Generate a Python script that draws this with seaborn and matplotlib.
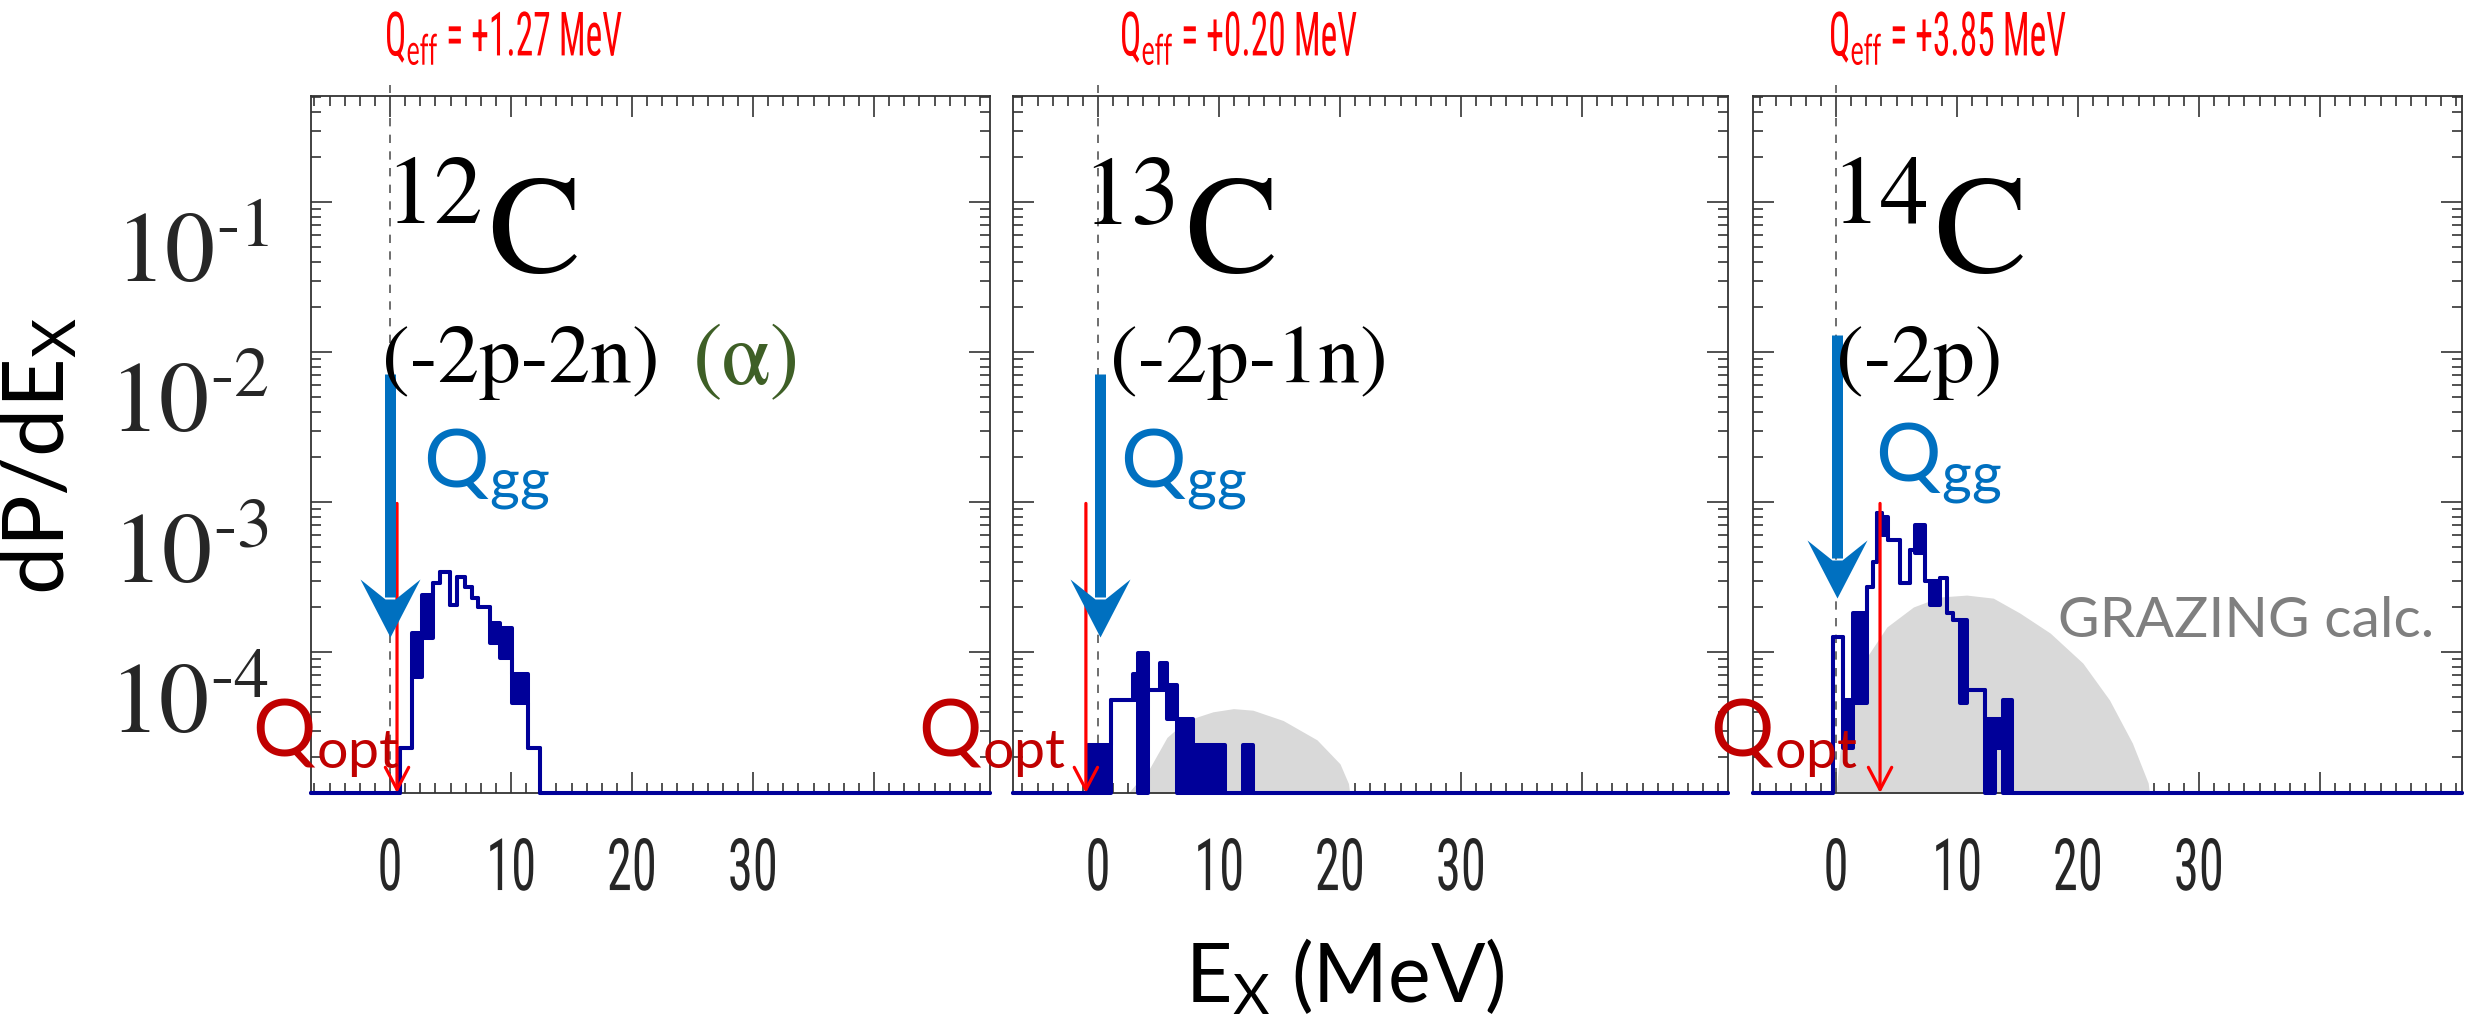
import numpy as np
import pandas as pd
import matplotlib
matplotlib.use("Agg")
import matplotlib.pyplot as plt
import seaborn as sns
from matplotlib import font_manager as fm
from matplotlib.path import Path
from matplotlib.patheffects import AbstractPathEffect
import matplotlib.transforms as mtransforms
from matplotlib.ticker import FixedLocator, LogLocator, NullFormatter, MultipleLocator

# ---------------- data ----------------
q_eff_values = ["+1.27", "+0.20", "+3.85"]
mass_numbers = ["12", "13", "14"]
channel_labels = ["(-2p-2n)", "(-2p-1n)", "(-2p)"]

x_ticks = [0, 10, 20, 30, 40]
x_tick_labels = ["0", "10", "20", "30", ""]
y_ticks = [1e-4, 1e-3, 1e-2, 1e-1]
y_tick_labels = [r"$10^{\text{-}4}$", r"$10^{\text{-}3}$", r"$10^{\text{-}2}$", r"$10^{\text{-}1}$"]

# panel 1 : 12C  (bin edges in MeV, upper / lower envelope of the fine-binned histogram; 0 = empty)
h1_edges = [0.83, 1.82, 2.64, 3.55, 4.13, 4.96, 5.54, 6.20, 6.78, 7.27, 8.26, 9.09, 10.08, 11.40, 12.40]
h1_upper = [2.3e-5, 1.34e-4, 2.4e-4, 2.9e-4, 3.4e-4, 2.06e-4, 3.16e-4, 2.7e-4, 2.3e-4, 2.0e-4, 1.56e-4, 1.45e-4, 7.2e-5, 2.3e-5]
h1_lower = [2.3e-5, 6.8e-5, 1.24e-4, 2.9e-4, 3.4e-4, 2.06e-4, 3.16e-4, 2.7e-4, 2.3e-4, 2.0e-4, 1.15e-4, 9.1e-5, 4.6e-5, 2.3e-5]

# panel 2 : 13C
h2_edges = [-0.83, 1.07, 2.89, 3.31, 4.13, 5.12, 5.70, 6.53, 7.85, 10.50, 11.98, 12.81]
h2_upper = [2.4e-5, 4.8e-5, 7.2e-5, 9.9e-5, 5.6e-5, 8.4e-5, 6.0e-5, 3.6e-5, 2.4e-5, 0, 2.4e-5]
h2_lower = [0, 4.8e-5, 4.8e-5, 0, 5.6e-5, 5.6e-5, 3.6e-5, 0, 0, 0, 0]

# panel 3 : 14C
h3_edges = [-0.25, 0.58, 1.40, 2.56, 3.06, 3.39, 3.80, 4.30, 5.29, 6.12, 6.53, 7.36, 7.77, 8.60,
            9.17, 9.67, 10.25, 10.83, 12.31, 13.14, 13.80, 14.55]
h3_upper = [1.26e-4, 4.8e-5, 1.82e-4, 2.7e-4, 4.0e-4, 8.5e-4, 7.9e-4, 5.6e-4, 2.9e-4, 4.8e-4, 7.0e-4,
            3.0e-4, 3.0e-4, 3.1e-4, 1.82e-4, 1.63e-4, 1.63e-4, 5.6e-5, 3.6e-5, 3.6e-5, 4.8e-5]
h3_lower = [1.26e-4, 2.3e-5, 4.6e-5, 2.7e-4, 4.0e-4, 8.5e-4, 6.0e-4, 5.6e-4, 2.9e-4, 4.8e-4, 4.6e-4,
            3.0e-4, 2.06e-4, 3.1e-4, 1.82e-4, 1.63e-4, 4.6e-5, 5.6e-5, 0, 2.3e-5, 0]

# GRAZING calculation (grey area), panels 2 and 3
g2_x = [2.5, 4.3, 5.7, 7.3, 9.5, 11.2, 12.8, 15.3, 18.1, 20.0, 20.7, 20.8]
g2_y = [0, 1.7e-5, 2.7e-5, 3.5e-5, 4.0e-5, 4.2e-5, 4.1e-5, 3.5e-5, 2.6e-5, 1.8e-5, 1.33e-5, 0]
g3_x = [0.0, 0.33, 2.56, 4.2, 6.4, 8.6, 10.8, 13.0, 15.2, 17.7, 20.4, 22.6, 24.5, 25.8, 25.9]
g3_y = [0, 2.2e-5, 9.3e-5, 1.47e-4, 2.0e-4, 2.33e-4, 2.4e-4, 2.29e-4, 1.82e-4, 1.34e-4, 8.45e-5,
        4.8e-5, 2.47e-5, 1.34e-5, 0]

# Q_gg (blue) and Q_opt (red) arrows
qgg_x = [0.0, 0.17, 0.08]
qgg_top = [7.2e-3, 7.2e-3, 1.3e-2]
qgg_tip = [1.26e-4, 1.26e-4, 2.29e-4]
qopt_x = [0.58, -1.0, 3.64]
qopt_top = [9.8e-4, 9.8e-4, 9.8e-4]

hist_edges = [h1_edges, h2_edges, h3_edges]
hist_upper = [h1_upper, h2_upper, h3_upper]
hist_lower = [h1_lower, h2_lower, h3_lower]
grey_x = [None, g2_x, g3_x]
grey_y = [None, g2_y, g3_y]

# ---------------- style / layout ----------------
W, H, DPI = 2466, 1024, 100
PT = 72.0 / DPI
YMIN, YMAX = 1.15e-5, 0.51
PX_PER_MEV = 12.1
AX_PX = [(311, 96, 990, 793), (1013, 96, 1728, 793), (1753, 96, 2462, 793)]
ZERO_PX = [390, 1098, 1836]

NAVY = "#000099"
BLUE = "#0070C0"
RED = "#FF0000"
DARKRED = "#C00000"
GREEN = "#3E5F26"
GREY = "#D9D9D9"
GREYTXT = "#7F7F7F"

sns.set_theme(style="ticks")
names = {f.name for f in fm.fontManager.ttflist}


def pick(*cands):
    for c in cands:
        if c in names:
            return c
    return "DejaVu Sans"


SANS = pick("Lato", "Open Sans", "Noto Sans")
NARROW = pick("Liberation Sans Narrow", "DejaVu Sans Condensed", "Roboto Condensed", SANS)
SERIF = "STIXGeneral"
plt.rcParams["font.family"] = [SANS, "DejaVu Sans"]
plt.rcParams["mathtext.fontset"] = "custom"
plt.rcParams["mathtext.rm"] = SANS
plt.rcParams["mathtext.it"] = SANS + ":italic"
plt.rcParams["mathtext.bf"] = SANS + ":bold"
plt.rcParams["axes.linewidth"] = 1.3


class XSqueeze(AbstractPathEffect):
    """Draw the glyph outlines horizontally condensed (the text itself stays a Text artist)."""

    def __init__(self, sx, anchor="left"):
        super().__init__()
        self.sx = sx
        self.anchor = anchor

    def draw_path(self, renderer, gc, tpath, affine, rgbFace=None):
        cx = 0.0
        if self.anchor == "center" and len(tpath.vertices):
            ext = tpath.get_extents()
            cx = 0.5 * (ext.x0 + ext.x1)
        t = mtransforms.Affine2D().translate(-cx, 0).scale(self.sx, 1.0).translate(cx, 0)
        renderer.draw_path(gc, tpath, t + affine, rgbFace)


fig = plt.figure(figsize=(W / DPI, H / DPI), dpi=DPI)


def fxy(px, py):
    return px / W, 1 - py / H


# stealth-shaped arrow head marker (tip at origin, pointing down), in pixels
HEAD_HALF_W, HEAD_LEN, NOTCH = 30, 58, 38
head_path = Path([(0, 0), (-HEAD_HALF_W, HEAD_LEN), (-5, NOTCH), (5, NOTCH), (HEAD_HALF_W, HEAD_LEN), (0, 0)],
                 [Path.MOVETO, Path.LINETO, Path.LINETO, Path.LINETO, Path.LINETO, Path.CLOSEPOLY])
head_ms = 2 * HEAD_LEN * PT

axes = []
for i in range(3):
    l, t, r, b = AX_PX[i]
    ax = fig.add_axes([l / W, 1 - b / H, (r - l) / W, (b - t) / H])
    axes.append(ax)
    ax.set_yscale("log")
    x0 = (l - ZERO_PX[i]) / PX_PER_MEV
    x1 = (r - ZERO_PX[i]) / PX_PER_MEV
    ax.set_xlim(x0, x1)
    ax.set_ylim(YMIN, YMAX)
    px_per_dec = (b - t) / np.log10(YMAX / YMIN)

    # grey GRAZING area
    if grey_x[i] is not None:
        gy = np.maximum(np.array(grey_y[i], float), YMIN)
        ax.fill_between(grey_x[i], YMIN, gy, color=GREY, lw=0, zorder=1)

    # dashed zero line
    ax.axvline(0, ymin=0, ymax=1.016, color="#555555", lw=1.2, ls=(0, (5, 5)), zorder=1.5, clip_on=False)

    # histogram: envelope fill + outlines
    edges = [x0] + list(hist_edges[i]) + [x1]
    up = np.maximum(np.array([0] + list(hist_upper[i]) + [0], float), YMIN)
    lo = np.maximum(np.array([0] + list(hist_lower[i]) + [0], float), YMIN)
    up_s = np.append(up, up[-1])
    lo_s = np.append(lo, lo[-1])
    ax.fill_between(edges, lo_s, up_s, step="post", color=NAVY, lw=0, zorder=2.6)
    for arr in (up_s, lo_s):
        df = pd.DataFrame({"E": edges, "P": arr})
        sns.lineplot(data=df, x="E", y="P", drawstyle="steps-post", estimator=None, sort=False,
                     color=NAVY, lw=2.9, ax=ax, zorder=3, clip_on=False, legend=False)

    # Q_opt red arrow
    ax.annotate("", xy=(qopt_x[i], YMIN), xytext=(qopt_x[i], qopt_top[i]),
                arrowprops=dict(arrowstyle="->,head_length=0.8,head_width=0.42", color=RED, lw=2.3,
                                shrinkA=0, shrinkB=0, mutation_scale=20),
                annotation_clip=False, zorder=3.5)

    # Q_gg blue arrow
    shaft_end = qgg_tip[i] * 10 ** ((NOTCH + 2) / px_per_dec)
    ax.plot([qgg_x[i], qgg_x[i]], [qgg_top[i], shaft_end], color=BLUE, lw=11 * PT,
            solid_capstyle="butt", zorder=4, clip_on=False)
    ax.plot([qgg_x[i]], [qgg_tip[i]], marker=head_path, ms=head_ms, color=BLUE, mew=0,
            zorder=4, clip_on=False)

    # ticks
    ax.xaxis.set_major_locator(FixedLocator(x_ticks))
    ax.xaxis.set_minor_locator(MultipleLocator(1.25))
    ax.yaxis.set_major_locator(FixedLocator(y_ticks))
    ax.yaxis.set_minor_locator(LogLocator(base=10, subs=np.arange(2, 10)))
    ax.yaxis.set_minor_formatter(NullFormatter())
    ax.tick_params(which="both", direction="in", top=True, right=True, color="#333333", width=1.2)
    ax.tick_params(which="major", length=15)
    ax.tick_params(which="minor", length=7)
    ax.set_xticks(x_ticks)
    ax.set_xticklabels(x_tick_labels, fontsize=52, family=NARROW,
                       path_effects=[XSqueeze(0.7, "center")])
    ax.tick_params(axis="x", pad=31)
    ax.set_yticks(y_ticks)
    if i == 0:
        ax.set_yticklabels(y_tick_labels, fontsize=72, math_fontfamily="stix", va="top")
        ax.tick_params(axis="y", pad=30)
    else:
        ax.set_yticklabels([])
    ax.set_xlabel("")
    ax.set_ylabel("")
    for s in ax.spines.values():
        s.set_color("#333333")
        s.set_visible(True)

# ---------------- texts ----------------
qeff_left = [385, 1120, 1829]
for i in range(3):
    fig.text(*fxy(qeff_left[i], 56), r"Q$_{\mathrm{eff}}$ = " + q_eff_values[i] + " MeV",
             color=RED, fontsize=44, family=NARROW, ha="left", va="baseline",
             path_effects=[XSqueeze(0.58, "left")])

nuc_left = [383, 1080, 1829]
for i in range(3):
    fig.text(*fxy(nuc_left[i], 273), r"$^{" + mass_numbers[i] + r"}\mathrm{C}$", fontsize=100,
             math_fontfamily="stix", color="black", ha="left", va="baseline", zorder=3)

chan_left = [382, 1110, 1836]
for i in range(3):
    fig.text(*fxy(chan_left[i], 382), channel_labels[i], fontsize=60, family=SERIF, color="black",
             ha="left", va="baseline", zorder=3)
fig.text(*fxy(693, 384), "(α)", fontsize=64, family=SERIF, color=GREEN, ha="left", va="baseline")

qgg_pos = [(423, 487), (1120, 487), (1875, 481)]
for (px, py) in qgg_pos:
    fig.text(*fxy(px, py), r"Q$_{\mathrm{gg}}$", fontsize=59, color=BLUE, ha="left", va="baseline", zorder=5)

qopt_pos = [(252, 756), (918, 756), (1710, 756)]
for (px, py) in qopt_pos:
    fig.text(*fxy(px, py), r"Q$_{\mathrm{opt}}$", fontsize=57, color=DARKRED, ha="left", va="baseline", zorder=5)

fig.text(*fxy(2058, 637), "GRAZING calc.", fontsize=41, color=GREYTXT, ha="left", va="baseline")

fig.text(*fxy(1345, 977), r"E$_{\mathrm{X}}$ (MeV)", fontsize=58, ha="center", va="center", color="black")
fig.text(*fxy(39, 456), r"dP/dE$_{\mathrm{X}}$", fontsize=62, ha="center", va="center", rotation=90,
         color="black")

# y tick labels sit a little below their decade tick in the original figure
fig.canvas.draw()
shift = mtransforms.ScaledTranslation(0, -6 / DPI, fig.dpi_scale_trans)
for lab in axes[0].get_yticklabels():
    lab.set_transform(lab.get_transform() + shift)

fig.savefig("out.png", dpi=DPI, facecolor="white")
